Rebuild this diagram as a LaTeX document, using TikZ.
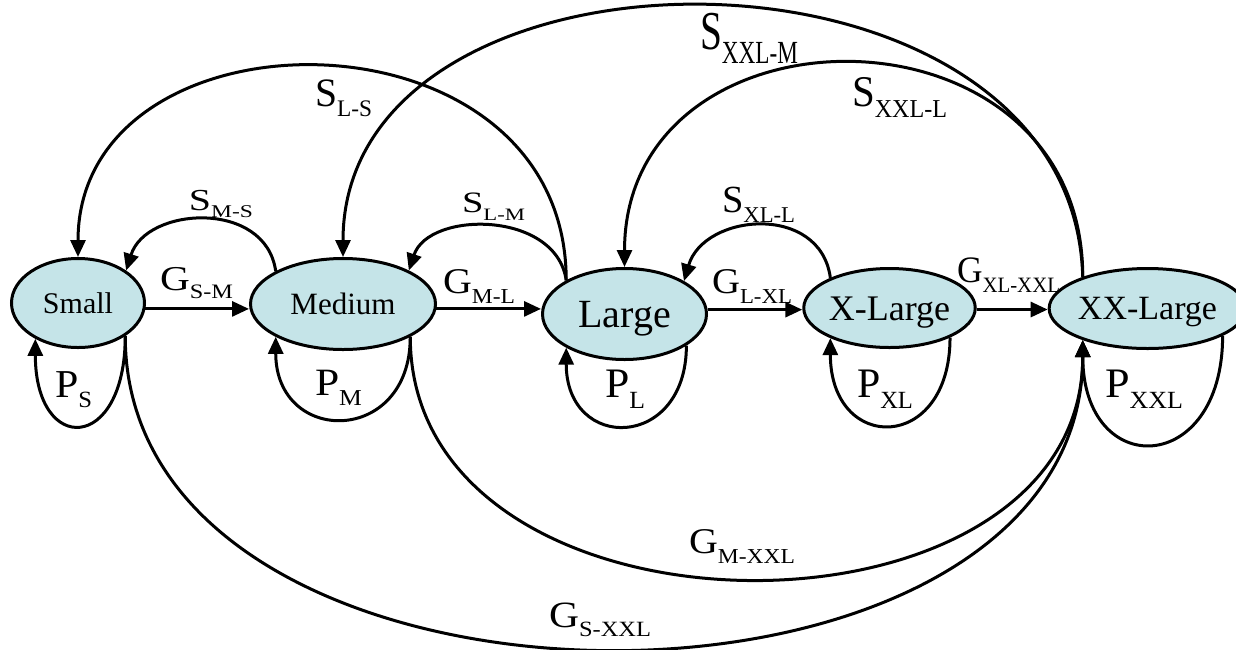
\documentclass[tikz,border=0pt]{standalone}
\usepackage{fontspec}
\setmainfont{Liberation Serif}
\usepackage{graphicx}
\usetikzlibrary{shapes.geometric,arrows.meta}
\definecolor{nodefill}{RGB}{197,228,232}
\newcommand{\tlab}[4]{\resizebox*{#1pt}{#2pt}{\fontsize{34}{34}\selectfont #3\raisebox{-0.25em}{\fontsize{20}{20}\selectfont #4}}}
\begin{document}
\begin{tikzpicture}[x=1pt,y=-1pt,
  state/.style={ellipse,draw=black,line width=3pt,fill=nodefill,inner sep=0pt,text depth=0pt},
  arr/.style={line width=3pt,-{Triangle[length=17pt,width=15pt]}},
  lab/.style={inner sep=0pt}]
\useasboundingbox (0,0) rectangle (1236,649);
% states
\node[state,minimum width=133pt,minimum height=89pt,text height=20pt,font=\fontsize{30}{30}\selectfont] (S) at (78,303) {Small};
\node[state,minimum width=185pt,minimum height=91pt,text height=20.5pt,font=\fontsize{31}{31}\selectfont] (M) at (343,304) {Medium};
\node[state,minimum width=164pt,minimum height=91pt,text height=26.5pt,font=\fontsize{40}{40}\selectfont] (L) at (624.5,314) {Large};
\node[state,minimum width=152pt,minimum height=79pt,text height=24pt,font=\fontsize{36}{36}\selectfont] (XL) at (889.5,308) {X-Large};
\node[state,minimum width=172pt,minimum height=80pt,text height=22.5pt,font=\fontsize{34}{34}\selectfont] (XXL) at (1147.5,308.5) {XX-Large};
% forward arrows
\draw[arr] (S.-5) -- (S.-5 -| M.west);
\draw[arr] (M.-3) -- (M.-3 -| L.west);
\draw[arr] (L.3) -- (L.3 -| XL.west);
\draw[arr] (XL.-1) -- (XL.-1 -| XXL.west);
% self loops
\draw[arr] (S.-35) .. controls +(0,117) and +(0,117) .. (S.-140);
\draw[arr] (M.-26) .. controls +(0,109) and +(0,109) .. (M.-154);
\draw[arr] (L.-27) .. controls +(0,105) and +(0,105) .. (L.-150);
\draw[arr] (XL.-26) .. controls +(0,116) and +(0,116) .. (XL.-153);
\draw[arr] (XXL.-20) .. controls +(0,141) and +(0,141) .. (XXL.-154);
% short backward arcs
\draw[arr] (M.154) .. controls +(-10,-72) and +(20,-64) .. (S.34);
\draw[arr] (L.150) .. controls +(-10,-70) and +(20,-60) .. (M.27);
\draw[arr] (XL.153) .. controls +(-10,-75) and +(20,-68) .. (L.29);
% long backward arcs
\draw[arr] (L.150) .. controls +(0,-281) and +(0,-257) .. (S.north);
\draw[arr] (XXL.154) .. controls +(-10,-358) and +(0,-337) .. (M.north);
\draw[arr] (XXL.154) .. controls +(0,-284) and +(0,-272) .. (L.north);
% long forward arcs
\draw[arr] (M.-26) .. controls +(0,321) and +(0,319) .. (XXL.-154);
\draw[arr] (S.-35) .. controls +(0,415) and +(0,413) .. (XXL.-154);
% labels
\node[lab] (lGSM) at (196.5,283) {\tlab{73}{32}{G}{S-M}};
\node[lab] (lGML) at (479,286.5) {\tlab{72}{33}{G}{M-L}};
\node[lab] (lGLXL) at (752,286.5) {\tlab{80}{33}{G}{L-XL}};
\node[lab] (lGXLXXL) at (1008.5,275) {\tlab{103}{34}{G}{XL-XXL}};
\node[lab] (lSMS) at (221,204) {\tlab{64}{28}{S}{M-S}};
\node[lab] (lSLM) at (493.5,206.5) {\tlab{63}{27}{S}{L-M}};
\node[lab] (lSXLL) at (758.5,204.5) {\tlab{73}{35}{S}{XL-L}};
\node[lab] (lSLS) at (343.5,98.5) {\tlab{57}{37}{S}{L-S}};
\node[lab] (lSXXLM) at (749,38) {\tlab{98}{50}{S}{XXL-M}};
\node[lab] (lSXXLL) at (899.5,97) {\tlab{95}{40}{S}{XXL-L}};
\node[lab] (lGMXXL) at (742,546.5) {\tlab{106}{33}{G}{M-XXL}};
\node[lab] (lGSXXL) at (600,620) {\tlab{102}{34}{G}{S-XXL}};
\node[lab] (lPS) at (73.5,390) {\tlab{37}{36}{P}{S}};
\node[lab] (lPM) at (338.5,387.5) {\tlab{47}{35}{P}{M}};
\node[lab] (lPL) at (625,389) {\tlab{40}{38}{P}{L}};
\node[lab] (lPXL) at (885,389) {\tlab{56}{38}{P}{XL}};
\node[lab] (lPXXL) at (1144,389) {\tlab{78}{38}{P}{XXL}};
\end{tikzpicture}
\end{document}
